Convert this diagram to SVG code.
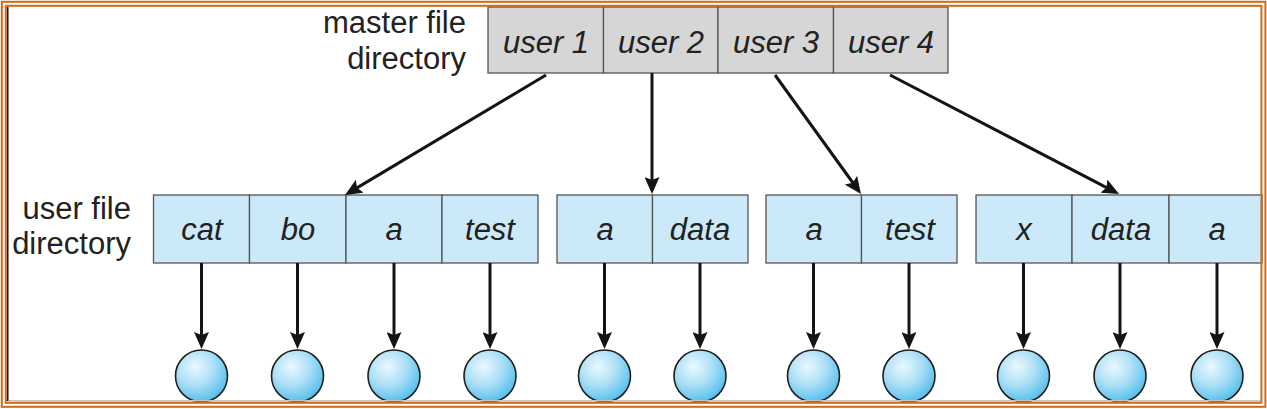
<svg xmlns="http://www.w3.org/2000/svg" width="1267" height="409" viewBox="0 0 1267 409">
<style>
.lbl{font-family:"Liberation Sans",Arial,sans-serif;font-size:31px;fill:#222}
.it{font-family:"Liberation Sans",Arial,sans-serif;font-size:31px;font-style:italic;fill:#222;text-anchor:middle}
.mcell{fill:#d6d6d6;stroke:#555;stroke-width:1.3}
.ucell{fill:#cce9f9;stroke:#555;stroke-width:1.3}
.file{fill:url(#ball);stroke:#1e1e1e;stroke-width:1.6}
.conn{stroke:#141414;stroke-width:3;fill:none;marker-end:url(#ah)}
.frame{fill:none;stroke:#d06b12;stroke-width:2}
</style>
<defs>
<marker id="ah" viewBox="0 0 17 15" refX="9" refY="7.5" markerWidth="17" markerHeight="15" markerUnits="userSpaceOnUse" orient="auto">
<path d="M0,0 L17,7.5 L0,15 L3,7.5 Z" fill="#141414"/>
</marker>
<radialGradient id="ball" cx="0.38" cy="0.32" r="0.7">
<stop offset="0" stop-color="#eaf8fe"/>
<stop offset="0.5" stop-color="#aee0f7"/>
<stop offset="1" stop-color="#55bfec"/>
</radialGradient>
</defs>
<rect width="1267" height="409" fill="#fff"/>

<g id="master-label">
<text class="lbl" x="466" y="33" text-anchor="end">master file</text>
<text class="lbl" x="466" y="69" text-anchor="end">directory</text>
</g>
<g id="user-label">
<text class="lbl" x="131" y="219" text-anchor="end">user file</text>
<text class="lbl" x="131" y="254" text-anchor="end">directory</text>
</g>

<g id="master-directory">
<rect class="mcell" x="488" y="7" width="115.5" height="66"/>
<rect class="mcell" x="603.5" y="7" width="114.5" height="66"/>
<rect class="mcell" x="718" y="7" width="115.5" height="66"/>
<rect class="mcell" x="833.5" y="7" width="114.5" height="66"/>
<text class="it" x="546" y="53">user 1</text>
<text class="it" x="661" y="53">user 2</text>
<text class="it" x="776" y="53">user 3</text>
<text class="it" x="891" y="53">user 4</text>
</g>

<g id="ufd-user1">
<rect class="ucell" x="153.5" y="195" width="96" height="68"/>
<rect class="ucell" x="249.5" y="195" width="96.5" height="68"/>
<rect class="ucell" x="346" y="195" width="96" height="68"/>
<rect class="ucell" x="442" y="195" width="96" height="68"/>
<text class="it" x="202" y="240">cat</text>
<text class="it" x="298" y="240">bo</text>
<text class="it" x="394" y="240">a</text>
<text class="it" x="490" y="240">test</text>
</g>
<g id="ufd-user2">
<rect class="ucell" x="557" y="195" width="95.5" height="68"/>
<rect class="ucell" x="652.5" y="195" width="95.5" height="68"/>
<text class="it" x="605" y="240">a</text>
<text class="it" x="700" y="240">data</text>
</g>
<g id="ufd-user3">
<rect class="ucell" x="766" y="195" width="95.5" height="68"/>
<rect class="ucell" x="861.5" y="195" width="95.5" height="68"/>
<text class="it" x="814" y="240">a</text>
<text class="it" x="910" y="240">test</text>
</g>
<g id="ufd-user4">
<rect class="ucell" x="976" y="195" width="96" height="68"/>
<rect class="ucell" x="1072" y="195" width="97" height="68"/>
<rect class="ucell" x="1169" y="195" width="93" height="68"/>
<text class="it" x="1024" y="240">x</text>
<text class="it" x="1121" y="240">data</text>
<text class="it" x="1217" y="240">a</text>
</g>

<g id="files">
<circle id="f-cat" class="file" cx="201.5" cy="376" r="26"/>
<circle id="f-bo" class="file" cx="297.5" cy="376" r="26"/>
<circle id="f-a1" class="file" cx="394" cy="376" r="26"/>
<circle id="f-test1" class="file" cx="490" cy="376" r="26"/>
<circle id="f-a2" class="file" cx="604.5" cy="376" r="26"/>
<circle id="f-data2" class="file" cx="700" cy="376" r="26"/>
<circle id="f-a3" class="file" cx="813.5" cy="376" r="26"/>
<circle id="f-test3" class="file" cx="909" cy="376" r="26"/>
<circle id="f-x" class="file" cx="1023.5" cy="376" r="26"/>
<circle id="f-data4" class="file" cx="1120" cy="376" r="26"/>
<circle id="f-a4" class="file" cx="1217" cy="376" r="26"/>
</g>

<g id="connectors">
<line class="conn" x1="546" y1="75" x2="351.9" y2="190.9"/>
<line class="conn" x1="652" y1="73" x2="652" y2="186"/>
<line class="conn" x1="775" y1="75" x2="856.3" y2="187.5"/>
<line class="conn" x1="890" y1="75" x2="1111.9" y2="190.3"/>
<line class="conn" x1="201.5" y1="263" x2="201.5" y2="341"/>
<line class="conn" x1="297.5" y1="263" x2="297.5" y2="341"/>
<line class="conn" x1="394" y1="263" x2="394" y2="341"/>
<line class="conn" x1="490" y1="263" x2="490" y2="341"/>
<line class="conn" x1="604.5" y1="263" x2="604.5" y2="341"/>
<line class="conn" x1="700" y1="263" x2="700" y2="341"/>
<line class="conn" x1="813.5" y1="263" x2="813.5" y2="341"/>
<line class="conn" x1="909" y1="263" x2="909" y2="341"/>
<line class="conn" x1="1023.5" y1="263" x2="1023.5" y2="341"/>
<line class="conn" x1="1120" y1="263" x2="1120" y2="341"/>
<line class="conn" x1="1217" y1="263" x2="1217" y2="341"/>
</g>

<g id="frame">
<line x1="9" y1="400.8" x2="1260" y2="400.8" stroke="#c4c4c4" stroke-width="1.5"/>
<line x1="7.7" y1="7" x2="7.7" y2="401" stroke="#111" stroke-width="1.6"/>
<rect class="frame" x="5.8" y="5.8" width="1255.6" height="397"/>
<rect class="frame" x="1.8" y="1.8" width="1263.6" height="405"/>
</g>
</svg>
